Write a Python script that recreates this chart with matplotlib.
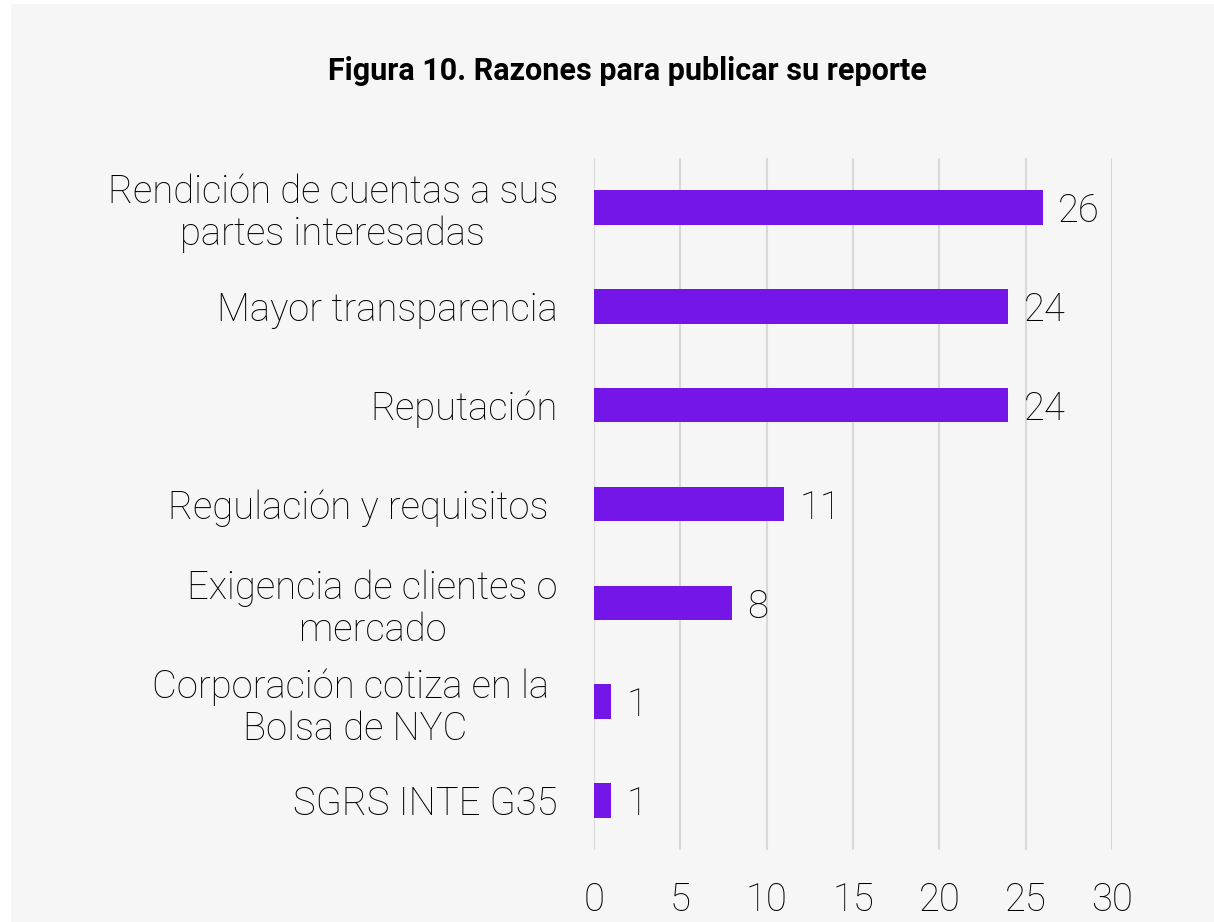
import matplotlib.pyplot as plt
from matplotlib.patches import Rectangle

# datos
razones = [
    "Rendición de cuentas a sus\npartes interesadas",
    "Mayor transparencia",
    "Reputación",
    "Regulación y requisitos ",
    "Exigencia de clientes o\nmercado",
    "Corporación cotiza en la \nBolsa de NYC",
    "SGRS INTE G35",
]
valores = [26, 24, 24, 11, 8, 1, 1]
ticks_x = [0, 5, 10, 15, 20, 25, 30]

fondo = "#f6f6f6"
morado = "#7516e8"
fs = 27.5

fig = plt.figure(figsize=(12.14, 9.22), dpi=100)
fig.patch.set_facecolor("white")
# panel gris (con borde blanco a la izquierda y arriba)
fig.patches.append(Rectangle((11 / 1214, 0), 1, 1 - 4 / 922, transform=fig.transFigure,
                             facecolor=fondo, edgecolor="none", zorder=-10))

ax = fig.add_axes([594 / 1214, 72 / 922, 518 / 1214, 692 / 922])
ax.set_facecolor(fondo)

y = list(range(len(razones)))
barras = ax.barh(y, valores, height=0.35, color=morado, zorder=3)
etiquetas = ax.bar_label(barras, labels=[str(v) for v in valores], padding=11,
                         fontsize=fs, fontfamily="Roboto", fontweight="light", color="black")
for t in etiquetas:
    t.set_va("center_baseline")

ax.set_ylim(len(razones) - 0.5, -0.5)
ax.set_xlim(0, 30)
ax.set_xticks(ticks_x)
ax.set_yticks(y)
ax.set_yticklabels(razones)
for lab in ax.get_yticklabels():
    lab.set_multialignment("center")
    lab.set_fontfamily("Roboto")
    lab.set_fontweight("light")
    lab.set_fontsize(fs)
    lab.set_linespacing(1.15)
for lab in ax.get_xticklabels():
    lab.set_fontfamily("Roboto")
    lab.set_fontweight("light")
    lab.set_fontsize(fs)

ax.tick_params(axis="y", length=0, pad=26)
ax.tick_params(axis="x", length=0, pad=23)
ax.grid(axis="x", color="#d9d9d9", linewidth=1.5, zorder=0)
for s in ax.spines.values():
    s.set_visible(False)

fig.text(627 / 1214, 1 - 71 / 922, "Figura 10. Razones para publicar su reporte",
         ha="center", va="center", fontsize=22, fontweight="bold",
         family=["Roboto", "DejaVu Sans"])

fig.savefig("out.png", dpi=100, facecolor=fig.get_facecolor())
